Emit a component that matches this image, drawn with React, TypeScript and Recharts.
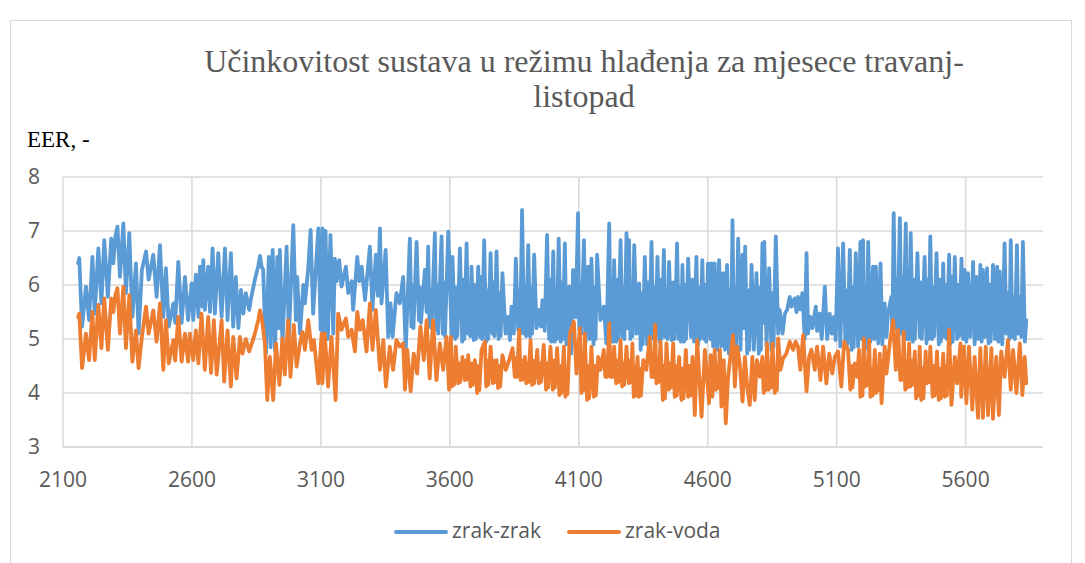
import React from "react";
import { LineChart, Line, XAxis, YAxis, CartesianGrid } from "recharts";

// sat u godini (h) i EER za zrak-zrak
const zrakZrakSati = [
  2159, 2163, 2174, 2189, 2201, 2214, 2223, 2237, 2249, 2260, 2274, 2287, 2295, 2303, 2311, 2321, 2334, 2344, 2357, 2369,
  2383, 2393, 2406, 2422, 2432, 2450, 2463, 2476, 2489, 2499, 2510, 2528, 2535, 2547, 2560, 2573, 2585,
  2599, 2605, 2615, 2625, 2631, 2641, 2644, 2650, 2663, 2670, 2680, 2689, 2702, 2715, 2728, 2738, 2751, 2760, 2770, 2780,
  2790, 2799, 2809, 2822, 2831, 2844, 2857, 2864, 2870, 2876, 2887, 2898, 2905, 2913, 2922, 2931, 2936, 2941, 2951, 2967,
  2976, 2993, 3003, 3008, 3019, 3032, 3038, 3051, 3060, 3070, 3090, 3099,
  3106, 3112, 3118, 3127, 3137, 3148, 3154, 3161, 3171, 3180, 3197, 3206, 3219, 3225, 3241, 3249, 3258, 3271, 3290, 3300,
  3313, 3321, 3329, 3335, 3351, 3361, 3370, 3378, 3393, 3406, 3419, 3429,
  3445, 3451, 3455, 3459, 3471, 3480, 3484, 3488, 3503, 3510, 3516, 3521, 3525, 3529, 3542, 3547, 3551, 3555, 3568, 3573,
  3577, 3581, 3594, 3607,
  3610, 3621, 3625, 3629, 3639, 3648, 3652, 3656, 3665, 3671, 3675, 3679, 3684, 3693, 3697, 3701, 3710, 3717, 3721, 3725,
  3733, 3741, 3745, 3749, 3758, 3765, 3769, 3773, 3781, 3789, 3793, 3797, 3804, 3816, 3826, 3833, 3839, 3848, 3856, 3865,
  3869, 3873, 3880, 3888, 3892, 3896, 3904, 3911, 3915, 3919, 3927, 3936, 3946, 3953, 3959, 3968, 3977, 3985, 3989, 3993,
  4001, 4007, 4011, 4015, 4022, 4030, 4034, 4038, 4046, 4052, 4055, 4059, 4063, 4070, 4078, 4088, 4097, 4102, 4106, 4110,
  4120, 4127, 4136, 4143, 4149, 4157, 4161, 4165, 4171, 4184, 4197, 4207, 4218, 4224, 4228, 4232, 4237, 4245, 4249, 4253,
  4262, 4269, 4273, 4277, 4285, 4290, 4295, 4300, 4304, 4308, 4315, 4324, 4334, 4340, 4344, 4348, 4356, 4365, 4369, 4373,
  4382, 4389, 4393, 4397, 4405, 4413, 4417, 4421, 4430, 4436, 4440, 4444, 4450, 4460, 4466, 4472, 4481, 4488, 4492, 4496,
  4502, 4508, 4512, 4516, 4524, 4535, 4541, 4547, 4556, 4563, 4567, 4571, 4579, 4586, 4590, 4594, 4601, 4610, 4614, 4621,
  4627, 4636, 4644, 4652, 4660, 4667, 4675, 4682, 4686, 4690, 4696, 4702, 4706, 4710, 4718, 4727, 4735, 4740, 4745, 4753,
  4757, 4761, 4770, 4779, 4789, 4798, 4802, 4806, 4812, 4816, 4819, 4828, 4838, 4847, 4851, 4855, 4864, 4873, 4879, 4890,
  4899, 4908, 4918, 4925, 4931, 4937, 4944, 4950, 4959, 4967, 4976, 4983, 4989, 4998, 5006, 5019, 5024, 5034, 5042, 5054,
  5063, 5073, 5081, 5089, 5096, 5105, 5114, 5125, 5134, 5138, 5142, 5151, 5158, 5162, 5166, 5174, 5183, 5192, 5197, 5202,
  5209, 5213, 5217, 5222, 5231, 5241, 5246, 5252, 5261, 5270, 5277, 5286, 5293, 5299, 5312, 5316, 5321, 5328, 5332, 5336,
  5345, 5351, 5355, 5359, 5368, 5373, 5377, 5381, 5387, 5395, 5399, 5403, 5413, 5422, 5426, 5430, 5441, 5448, 5452, 5456,
  5463, 5470, 5474, 5478, 5487, 5496, 5500, 5504, 5513, 5519, 5523, 5527, 5536, 5542, 5546, 5550, 5558, 5567, 5571, 5575,
  5584, 5590, 5596, 5603, 5609, 5618, 5629, 5635, 5642, 5649, 5657, 5662, 5667, 5675, 5683, 5689, 5693, 5697, 5706, 5714,
  5722, 5727, 5732, 5742, 5751, 5758, 5764, 5770, 5775, 5781, 5786, 5791, 5799, 5804, 5810, 5816, 5822, 5830, 5835,
];
const zrakZrakEER = [
  6.4, 6.5, 5.23, 5.97, 5.35, 6.52, 5.47, 6.68, 5.66, 6.83, 5.78, 6.86, 6.4, 6.9, 7.08, 6.15, 7.14, 5.85, 6.96, 5.41,
  6.4, 5.1, 6.28, 6.62, 6.1, 6.56, 5.78, 6.74, 5.41, 6.31, 5.23, 5.66, 5.3, 6.43, 5.3, 6.15, 5.35,
  6.03, 5.35, 6.19, 5.41, 6.34, 5.6, 6.46, 5.54, 6.34, 5.5, 6.68, 5.47, 6.59, 5.41, 6.68, 5.35, 6.59, 5.23, 6.15, 5.2,
  5.91, 5.47, 5.85, 5.54, 5.8, 6.1, 6.35, 6.54, 6.34, 6.28, 4.73, 6.52, 4.85, 6.65, 4.8, 6.52, 5.2, 6.65, 4.92, 6.71,
  5.04, 7.11, 5.35, 6.15, 5.1, 6.0, 5.66, 6.31, 7.02, 5.47, 7.05, 5.17,
  7.05, 5.0, 7.0, 5.0, 6.93, 5.1, 6.49, 6.07, 6.46, 5.97, 6.34, 5.85, 6.07, 5.54, 6.52, 6.07, 6.34, 5.72, 6.71, 5.54,
  6.56, 5.8, 7.05, 5.66, 6.65, 5.04, 5.66, 5.04, 5.85, 5.66, 6.15, 4.8,
  6.86, 5.23, 6.0, 5.2, 6.8, 5.35, 5.95, 5.3, 6.28, 5.5, 6.71, 5.23, 5.9, 5.2, 6.96, 5.17, 6.0, 5.1, 6.9, 5.1,
  6.05, 5.05, 6.99, 5.04,
  6.52, 5.0, 5.95, 5.05, 6.68, 4.95, 6.1, 5.0, 6.77, 5.1, 5.9, 5.05, 6.34, 4.98, 6.0, 5.0, 6.34, 5.04, 6.15, 5.0,
  6.83, 4.95, 5.9, 5.0, 6.59, 5.1, 6.05, 5.05, 6.62, 5.0, 5.85, 5.05, 6.22, 5.1, 5.41, 4.98, 5.6, 5.1, 6.49, 5.17,
  5.9, 5.1, 7.39, 5.1, 6.0, 5.05, 6.74, 5.04, 5.95, 5.1, 6.56, 5.2, 5.54, 5.23, 5.72, 5.15, 6.93, 5.0, 6.1, 4.95,
  6.62, 4.95, 5.9, 5.0, 6.86, 4.95, 6.05, 5.0, 6.77, 4.9, 5.8, 4.95, 5.97, 4.73, 6.28, 5.4, 7.33, 5.17, 6.0, 5.1,
  6.83, 4.95, 6.34, 5.0, 6.49, 4.9, 5.95, 5.0, 6.56, 5.35, 5.6, 4.92, 7.14, 5.0, 6.0, 4.95, 6.46, 4.95, 6.1, 5.0,
  6.83, 5.04, 5.95, 5.0, 6.96, 5.2, 6.83, 5.0, 5.9, 5.05, 6.74, 5.1, 6.03, 4.8, 5.85, 4.9, 6.52, 4.9, 6.05, 4.95,
  6.8, 5.0, 5.95, 5.0, 6.52, 4.95, 6.1, 5.0, 6.65, 5.04, 5.9, 5.0, 6.43, 4.98, 6.05, 5.0, 6.77, 5.0, 5.95, 4.95,
  6.37, 4.95, 6.0, 5.0, 6.49, 5.04, 6.1, 4.95, 6.52, 4.9, 5.95, 5.0, 6.46, 5.0, 6.0, 4.95, 6.4, 5.0, 6.4, 4.86,
  6.4, 4.8, 6.46, 4.86, 6.22, 4.8, 6.37, 4.73, 5.9, 4.8, 7.2, 4.86, 5.95, 4.85, 6.86, 4.8, 6.56, 5.2, 6.71, 4.73,
  5.9, 4.8, 6.37, 4.8, 6.22, 4.73, 5.95, 4.8, 6.77, 5.3, 6.8, 4.86, 6.31, 4.8, 5.85, 4.85, 6.9, 5.1, 5.54, 5.1,
  5.47, 5.54, 5.78, 5.6, 5.7, 5.75, 5.5, 5.78, 5.55, 5.85, 5.0, 6.59, 5.1, 5.41, 5.2, 5.6, 5.15, 5.47, 5.0, 5.97,
  5.0, 5.47, 5.1, 5.41, 4.98, 6.68, 4.86, 6.77, 4.86, 5.9, 4.9, 6.65, 4.8, 5.95, 4.85, 6.59, 4.86, 6.8, 5.0, 6.83,
  4.8, 5.9, 4.85, 6.8, 4.95, 6.34, 5.0, 6.34, 4.92, 6.4, 4.9, 5.66, 5.04, 5.47, 5.78, 5.1, 7.33, 5.2, 6.1, 5.1,
  7.24, 5.1, 6.15, 5.05, 7.14, 5.0, 6.0, 5.0, 6.96, 4.95, 6.1, 5.0, 6.59, 5.04, 6.05, 5.0, 6.52, 4.92, 6.1, 5.0,
  6.9, 5.0, 5.95, 5.05, 6.59, 4.9, 6.1, 4.95, 6.4, 5.04, 6.0, 5.0, 6.56, 4.92, 6.15, 4.95, 6.52, 5.0, 6.0, 5.05,
  6.49, 5.0, 6.28, 4.95, 6.22, 5.04, 6.43, 4.9, 6.15, 5.0, 6.37, 4.95, 6.28, 5.04, 6.31, 4.92, 6.0, 4.95, 6.37, 5.0,
  6.34, 4.95, 6.25, 4.9, 6.77, 5.1, 5.85, 5.0, 6.83, 5.04, 5.78, 5.0, 6.74, 5.1, 5.78, 5.04, 6.8, 4.95, 5.35,
];

// sat u godini (h) i EER za zrak-voda
const zrakVodaSati = [
  2159, 2163, 2174, 2189, 2201, 2214, 2223, 2237, 2249, 2260, 2274, 2287, 2295, 2303, 2311, 2321, 2334, 2344, 2357, 2369,
  2383, 2393, 2406, 2422, 2432, 2450, 2463, 2476, 2489, 2499, 2510, 2528, 2535, 2547, 2560, 2573, 2585,
  2592, 2605, 2615, 2625, 2637, 2650, 2663, 2674, 2685, 2696, 2715, 2725, 2738, 2751, 2760, 2773, 2786, 2796, 2809, 2822,
  2831, 2844, 2857, 2864, 2870, 2883, 2892, 2902, 2915, 2926, 2939, 2951, 2960, 2973, 2982, 2995, 3006, 3019, 3029, 3038,
  3051, 3064, 3073, 3090, 3103,
  3106, 3115, 3128, 3141, 3157, 3167, 3180, 3197, 3206, 3219, 3232, 3241, 3251, 3262, 3277, 3290, 3300, 3313, 3329, 3342,
  3352, 3367, 3380, 3393, 3406, 3419, 3426, 3435, 3448, 3460, 3473, 3486, 3499, 3510, 3522, 3535, 3548, 3561, 3574, 3587,
  3597,
  3604, 3608, 3612, 3616, 3623, 3632, 3636, 3640, 3649, 3658, 3662, 3666, 3671, 3680, 3684, 3688, 3697, 3706, 3710, 3714,
  3723, 3736, 3741, 3745, 3749, 3758, 3767, 3771, 3775, 3781, 3787, 3791, 3795, 3804, 3817, 3830, 3843, 3852, 3856, 3860,
  3869, 3874, 3878, 3882, 3891, 3896, 3900, 3904, 3913, 3919, 3923, 3927, 3939, 3945, 3949, 3953, 3964, 3973, 3977, 3981,
  3990, 3999, 4003, 4007, 4016, 4025, 4029, 4033, 4042, 4048, 4052, 4056, 4065, 4081, 4091, 4104, 4110, 4114, 4118, 4123,
  4132, 4136, 4140, 4149, 4158, 4162, 4166, 4175, 4184, 4197, 4203, 4207, 4211, 4218, 4223, 4227, 4231, 4237, 4245, 4249,
  4253, 4262, 4268, 4272, 4276, 4285, 4294, 4298, 4302, 4308, 4313, 4317, 4321, 4328, 4333, 4337, 4341, 4350, 4362, 4375,
  4382, 4386, 4390, 4396, 4401, 4405, 4409, 4417, 4426, 4430, 4434, 4440, 4449, 4453, 4457, 4466, 4472, 4476, 4480, 4489,
  4498, 4502, 4506, 4515, 4524, 4528, 4532, 4541, 4550, 4559, 4576, 4589, 4605, 4611, 4618, 4627, 4632, 4636, 4640, 4647,
  4653, 4662, 4670, 4679, 4688, 4698, 4705, 4714, 4724, 4735, 4744, 4753, 4763, 4773, 4782, 4791, 4802, 4812, 4817, 4821,
  4825, 4830, 4837, 4841, 4845, 4851, 4860, 4864, 4868, 4873, 4882, 4892, 4905, 4918, 4931, 4941, 4950, 4959, 4970, 4983,
  4993, 5002, 5015, 5024, 5037, 5047, 5060, 5071, 5083, 5093, 5105, 5118, 5129, 5144, 5153, 5157, 5161, 5170, 5179, 5187,
  5192, 5196, 5200, 5205, 5211, 5215, 5219, 5226, 5231, 5235, 5239, 5248, 5253, 5257, 5261, 5267, 5274, 5286, 5293, 5306,
  5319, 5329, 5338, 5347, 5351, 5355, 5360, 5366, 5370, 5374, 5381, 5386, 5390, 5394, 5403, 5408, 5412, 5416, 5422, 5428,
  5432, 5436, 5445, 5450, 5454, 5458, 5463, 5472, 5476, 5480, 5489, 5496, 5500, 5504, 5513, 5519, 5523, 5527, 5536, 5545,
  5558, 5567, 5580, 5583, 5593, 5603, 5613, 5626, 5635, 5648, 5657, 5667, 5678, 5687, 5700, 5706, 5719, 5729, 5738, 5751,
  5764, 5775, 5784, 5797, 5810, 5820, 5829, 5835,
];
const zrakVodaEER = [
  5.4, 5.47, 4.46, 5.1, 4.61, 5.5, 4.61, 5.63, 4.83, 5.75, 4.8, 5.75, 5.5, 5.81, 5.94, 5.1, 5.97, 4.83, 5.81, 4.58,
  5.16, 4.46, 5.04, 5.6, 5.1, 5.53, 4.95, 5.66, 4.43, 5.35, 4.55, 4.98, 4.6, 5.41, 4.58, 5.1, 4.58,
  5.1, 4.61, 5.16, 4.55, 5.47, 4.43, 5.41, 4.37, 5.35, 4.34, 5.35, 4.21, 5.16, 4.12, 5.04, 4.27, 5.04, 4.73, 5.0, 4.77,
  4.9, 5.1, 5.35, 5.53, 5.41, 4.92, 3.87, 4.67, 3.87, 4.92, 4.15, 5.01, 4.34, 5.35, 4.3, 5.26, 4.49, 4.92, 5.13, 4.8,
  5.35, 4.8, 4.98, 4.18, 5.1,
  4.18, 5.1, 4.12, 5.04, 3.87, 5.47, 5.17, 5.38, 5.04, 5.17, 4.77, 5.5, 5.17, 5.35, 4.77, 5.66, 4.8, 5.54, 4.43, 4.98,
  4.12, 4.86, 4.43, 4.98, 4.86, 4.92, 4.06, 4.8, 4.03, 4.73, 4.36, 5.23, 4.61, 5.35, 4.27, 5.35, 4.24, 4.92, 4.43, 5.04,
  4.06,
  5.04, 4.12, 4.6, 4.15, 4.86, 4.18, 4.55, 4.2, 4.67, 4.24, 4.6, 4.25, 4.7, 4.12, 4.55, 4.15, 4.61, 4.0, 4.5, 4.05,
  4.8, 4.95, 4.12, 4.6, 4.15, 4.86, 4.18, 4.6, 4.2, 4.61, 4.09, 4.5, 4.12, 4.7, 4.43, 4.61, 4.83, 4.3, 4.65, 4.3,
  5.17, 4.24, 4.6, 4.25, 4.67, 4.18, 4.55, 4.2, 4.98, 4.15, 4.6, 4.18, 4.8, 4.18, 4.55, 4.2, 4.89, 4.06, 4.55, 4.1,
  4.86, 4.06, 4.6, 4.1, 4.83, 3.96, 4.5, 4.0, 4.86, 3.93, 4.45, 3.98, 5.1, 5.32, 4.36, 5.2, 4.0, 4.55, 4.05, 5.1,
  3.87, 4.5, 3.9, 4.86, 3.93, 4.5, 3.95, 4.67, 4.43, 4.8, 4.3, 4.6, 4.3, 5.29, 4.3, 4.6, 4.3, 4.86, 4.18, 4.6,
  4.2, 4.98, 4.12, 4.55, 4.15, 4.86, 4.18, 4.6, 4.2, 4.92, 3.93, 4.5, 3.95, 4.67, 3.93, 4.45, 3.95, 4.61, 4.43, 5.04,
  4.3, 4.6, 4.3, 5.26, 4.18, 4.6, 4.2, 4.95, 3.87, 4.5, 3.9, 4.92, 4.06, 4.55, 4.1, 4.92, 3.93, 4.5, 3.95, 4.67,
  3.87, 4.45, 3.9, 4.8, 3.93, 4.5, 3.95, 4.67, 3.59, 4.98, 3.56, 4.8, 3.81, 4.7, 3.93, 4.8, 4.06, 4.5, 4.1, 4.8,
  3.75, 4.61, 3.44, 4.3, 4.67, 5.07, 4.12, 4.86, 4.55, 3.84, 4.67, 4.12, 3.78, 4.67, 3.87, 4.61, 4.3, 4.67, 4.0, 4.45,
  4.05, 4.92, 4.06, 4.5, 4.1, 4.92, 4.0, 4.45, 4.05, 5.01, 4.43, 4.64, 4.73, 4.95, 4.8, 4.95, 4.86, 4.43, 5.07, 4.03,
  4.67, 4.8, 4.43, 4.86, 4.24, 4.86, 4.18, 4.73, 4.36, 4.67, 4.77, 4.12, 4.95, 4.8, 4.06, 4.5, 4.1, 4.55, 4.3, 4.8,
  3.93, 4.45, 3.95, 5.01, 4.12, 4.55, 4.15, 4.98, 3.93, 4.45, 3.95, 4.8, 4.0, 4.5, 4.05, 4.73, 3.81, 4.86, 4.36, 4.92,
  5.35, 4.43, 5.17, 4.24, 4.6, 4.25, 5.13, 4.06, 4.55, 4.1, 4.92, 4.12, 4.6, 4.15, 4.77, 3.9, 4.45, 3.95, 4.86, 3.87,
  4.45, 3.9, 4.77, 4.18, 4.55, 4.2, 4.86, 3.93, 4.5, 3.95, 4.77, 3.87, 4.45, 3.9, 4.73, 3.93, 4.5, 3.95, 5.17, 3.78,
  4.67, 4.18, 4.92, 3.93, 4.86, 3.81, 4.86, 3.69, 4.67, 3.54, 4.83, 3.54, 4.86, 3.59, 4.83, 3.52, 4.67, 3.59, 4.77, 4.3,
  4.98, 4.06, 4.8, 4.0, 4.92, 3.96, 4.67, 4.18,
];

const xTicks = [2100, 2600, 3100, 3600, 4100, 4600, 5100, 5600];
const yTicks = [3, 4, 5, 6, 7, 8];

const zrakZrakData = zrakZrakSati.map((h, i) => ({ h, eer: zrakZrakEER[i] }));
const zrakVodaData = zrakVodaSati.map((h, i) => ({ h, eer: zrakVodaEER[i] }));

const BLUE = "#5B9BD5";
const ORANGE = "#ED7D31";
const GRID = "#d9d9d9";
const TICK = { fill: "#595959", fontSize: 21, fontFamily: "'Open Sans', sans-serif" };

export default function App() {
  return (
    <div style={{ position: "absolute", left: 0, top: 0, width: 1085, height: 563, background: "#fff", overflow: "hidden" }}>
      <div
        style={{
          position: "absolute",
          left: 10,
          top: 20,
          width: 1062,
          height: 620,
          border: `1px solid ${GRID}`,
          boxSizing: "border-box",
        }}
      />
      <div
        style={{
          position: "absolute",
          left: 84,
          top: 44,
          width: 1000,
          textAlign: "center",
          fontFamily: "'Liberation Serif', 'Times New Roman', serif",
          fontSize: 32,
          lineHeight: "35px",
          color: "#595959",
          whiteSpace: "nowrap",
        }}
      >
        <div>Učinkovitost sustava u režimu hlađenja za mjesece travanj-</div>
        <div>listopad</div>
      </div>
      <div
        style={{
          position: "absolute",
          left: 27,
          top: 127,
          fontFamily: "'Liberation Serif', 'Times New Roman', serif",
          fontSize: 23,
          lineHeight: "26px",
          color: "#000",
          whiteSpace: "nowrap",
        }}
      >
        EER, -
      </div>
      <div style={{ position: "absolute", left: 0, top: 0 }}>
        <LineChart width={1085} height={563} margin={{ top: 177, right: 42, left: 0, bottom: 86 }}>
          <CartesianGrid stroke={GRID} strokeWidth={1.5} horizontalValues={yTicks} verticalValues={xTicks} />
          <XAxis
            type="number"
            dataKey="h"
            domain={[2100, 5900]}
            ticks={xTicks}
            allowDataOverflow
            height={30}
            axisLine={{ stroke: GRID, strokeWidth: 1.5 }}
            tickLine={false}
            tickSize={0}
            tickMargin={25}
            tick={TICK}
          />
          <YAxis
            type="number"
            domain={[3, 8]}
            ticks={yTicks}
            width={63}
            axisLine={false}
            tickLine={false}
            tickSize={0}
            tickMargin={23}
            tick={TICK}
          />
          <Line
            data={zrakZrakData}
            dataKey="eer"
            name="zrak-zrak"
            type="linear"
            stroke={BLUE}
            strokeWidth={3.8}
            strokeLinejoin="round"
            strokeLinecap="round"
            dot={false}
            activeDot={false}
            isAnimationActive={false}
          />
          <Line
            data={zrakVodaData}
            dataKey="eer"
            name="zrak-voda"
            type="linear"
            stroke={ORANGE}
            strokeWidth={3.8}
            strokeLinejoin="round"
            strokeLinecap="round"
            dot={false}
            activeDot={false}
            isAnimationActive={false}
          />
        </LineChart>
      </div>
      <div
        style={{
          position: "absolute",
          left: 0,
          top: 518,
          width: 1085,
          height: 28,
          fontFamily: "'Open Sans', sans-serif",
          fontSize: 21,
          color: "#595959",
        }}
      >
        <div style={{ position: "absolute", left: 394, top: 12, width: 54, height: 4, background: BLUE, borderRadius: 2 }} />
        <div style={{ position: "absolute", left: 452, top: -2, lineHeight: "28px", whiteSpace: "nowrap" }}>zrak-zrak</div>
        <div style={{ position: "absolute", left: 567, top: 12, width: 54, height: 4, background: ORANGE, borderRadius: 2 }} />
        <div style={{ position: "absolute", left: 625, top: -2, lineHeight: "28px", whiteSpace: "nowrap" }}>zrak-voda</div>
      </div>
    </div>
  );
}
